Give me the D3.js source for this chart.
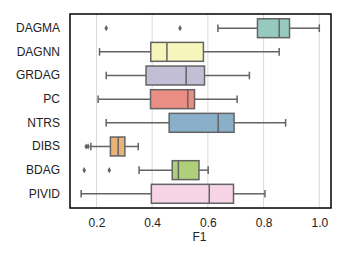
<!DOCTYPE html>
<html>
<head>
<meta charset="utf-8">
<script src="https://cdn.jsdelivr.net/npm/d3@7"></script>
<style>
  body { margin: 0; background: #fff; }
  text { font-family: "Liberation Sans", Arial, sans-serif; }
</style>
</head>
<body>
<svg id="chart" width="345" height="259"></svg>
<script>
// methods, top to bottom
const methods = ["DAGMA", "DAGNN", "GRDAG", "PC", "NTRS", "DIBS", "BDAG", "PIVID"];
// five-number summaries: [whisker lo, q1, median, q3, whisker hi]
const whiskerLo = [0.636, 0.211, 0.235, 0.206, 0.235, 0.180, 0.353, 0.145];
const q1 =        [0.778, 0.395, 0.378, 0.394, 0.461, 0.250, 0.472, 0.397];
const median =    [0.856, 0.453, 0.522, 0.528, 0.637, 0.278, 0.494, 0.605];
const q3 =        [0.893, 0.584, 0.588, 0.552, 0.694, 0.302, 0.568, 0.692];
const whiskerHi = [1.000, 0.856, 0.749, 0.705, 0.879, 0.350, 0.601, 0.805];
const outliers = [[0.235, 0.500], [], [], [], [], [0.163, 0.170], [0.156, 0.246], []];
const palette = ["#8dd3c7", "#ffffb3", "#bebada", "#fb8072", "#80b1d3", "#fdb462", "#b3de69", "#fccde5"];
const xTicks = [0.2, 0.4, 0.6, 0.8, 1.0];

const svg = d3.select("#chart");
const mLeft = 70, mRight = 331, mTop = 14, mBottom = 208;

const x = d3.scaleLinear().domain([0.105, 1.042]).range([mLeft, mRight]);
const y = d3.scaleBand().domain(methods).range([mTop, mBottom]).padding(0.2);

// grid
svg.append("g")
  .selectAll("line")
  .data(xTicks)
  .join("line")
  .attr("x1", d => x(d)).attr("x2", d => x(d))
  .attr("y1", mTop).attr("y2", mBottom)
  .attr("stroke", "#d9d9d9")
  .attr("stroke-width", 1);

const rows = methods.map((m, i) => ({
  m, lo: whiskerLo[i], q1: q1[i], med: median[i], q3: q3[i], hi: whiskerHi[i],
  out: outliers[i],
  fill: (() => { const c = d3.hsl(palette[i]); c.s *= 0.75; return c.formatHex(); })()
}));

const lineColor = "#636363";
const g = svg.append("g").selectAll("g").data(rows).join("g");
const mid = d => y(d.m) + y.bandwidth() / 2;

// whiskers
g.append("line")
  .attr("x1", d => x(d.lo)).attr("x2", d => x(d.q1))
  .attr("y1", mid).attr("y2", mid)
  .attr("stroke", lineColor).attr("stroke-width", 1.5);
g.append("line")
  .attr("x1", d => x(d.q3)).attr("x2", d => x(d.hi))
  .attr("y1", mid).attr("y2", mid)
  .attr("stroke", lineColor).attr("stroke-width", 1.5);
// caps
["lo", "hi"].forEach(k => {
  g.append("line")
    .attr("x1", d => x(d[k])).attr("x2", d => x(d[k]))
    .attr("y1", d => y(d.m) + y.bandwidth() * 0.3).attr("y2", d => y(d.m) + y.bandwidth() * 0.7)
    .attr("stroke", lineColor).attr("stroke-width", 1.5);
});
// boxes
g.append("rect")
  .attr("x", d => x(d.q1)).attr("width", d => x(d.q3) - x(d.q1))
  .attr("y", d => y(d.m)).attr("height", y.bandwidth())
  .attr("fill", d => d.fill)
  .attr("stroke", lineColor).attr("stroke-width", 1.5);
// medians
g.append("line")
  .attr("x1", d => x(d.med)).attr("x2", d => x(d.med))
  .attr("y1", d => y(d.m)).attr("y2", d => y(d.m) + y.bandwidth())
  .attr("stroke", lineColor).attr("stroke-width", 1.5);
// fliers
g.selectAll("path.flier")
  .data(d => d.out.map(v => ({ v, m: d.m })))
  .join("path")
  .attr("class", "flier")
  .attr("d", d3.symbol(d3.symbolDiamond, 11))
  .attr("transform", d => `translate(${x(d.v)},${y(d.m) + y.bandwidth() / 2})`)
  .attr("fill", lineColor);

// frame
svg.append("rect")
  .attr("x", mLeft).attr("y", mTop)
  .attr("width", mRight - mLeft).attr("height", mBottom - mTop)
  .attr("fill", "none").attr("stroke", "#000").attr("stroke-width", 1.5);

// y labels
svg.append("g")
  .attr("transform", `translate(${mLeft},0)`)
  .call(d3.axisLeft(y).tickSize(0).tickPadding(10))
  .call(a => a.select(".domain").remove())
  .selectAll("text")
  .attr("font-size", 12)
  .attr("font-family", "Liberation Sans, Arial, sans-serif")
  .attr("fill", "#222");

// x labels
svg.append("g")
  .attr("transform", `translate(0,${mBottom})`)
  .call(d3.axisBottom(x).tickValues(xTicks).tickFormat(d3.format(".1f")).tickSize(0).tickPadding(10))
  .call(a => a.select(".domain").remove())
  .selectAll("text")
  .attr("font-size", 12)
  .attr("font-family", "Liberation Sans, Arial, sans-serif")
  .attr("fill", "#222");

svg.append("text")
  .attr("x", (mLeft + mRight) / 2 - 1)
  .attr("y", 241)
  .attr("text-anchor", "middle")
  .attr("font-size", 12)
  .attr("fill", "#222")
  .text("F1");
</script>
</body>
</html>
